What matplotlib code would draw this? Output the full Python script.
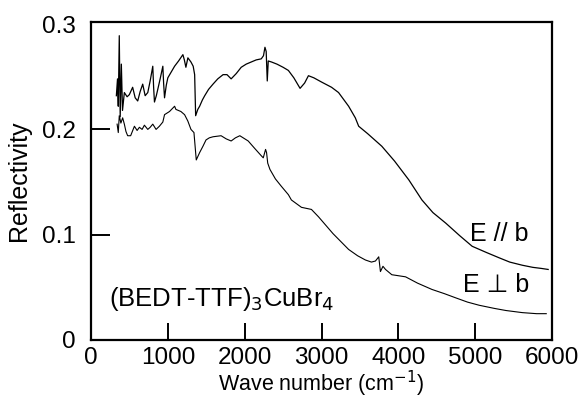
import matplotlib
matplotlib.use("Agg")
import matplotlib.pyplot as plt

plt.rcParams['font.family'] = ['Liberation Sans', 'DejaVu Sans']

# E // b (upper curve)
par_x = [330, 345, 355, 368, 380, 395, 410, 434, 470, 499, 542, 575, 608, 640, 673, 705, 739, 770,
         804, 815, 826, 850, 869, 900, 935, 945, 957, 980, 1000, 1040, 1088, 1140, 1196, 1215, 1235,
         1261, 1301, 1330, 1349, 1362, 1390, 1414, 1450, 1480, 1530, 1588, 1650, 1719, 1770, 1824,
         1890, 1955, 2020, 2085, 2150, 2216, 2245, 2264, 2280, 2294, 2307, 2350, 2420, 2500, 2569,
         2640, 2721, 2780, 2830, 2900, 3000, 3131, 3222, 3353, 3440, 3484, 3600, 3785, 3950,
         4137, 4307, 4450, 4617, 4800, 4961, 5150, 5314, 5450, 5614, 5750, 5859, 5950]
par_y = [0.232, 0.248, 0.222, 0.289, 0.212, 0.262, 0.218, 0.235, 0.231, 0.233, 0.240, 0.230, 0.227,
         0.236, 0.243, 0.232, 0.235, 0.246, 0.260, 0.240, 0.226, 0.232, 0.238, 0.248, 0.260, 0.244,
         0.230, 0.242, 0.249, 0.254, 0.260, 0.265, 0.271, 0.266, 0.259, 0.268, 0.264, 0.260, 0.252,
         0.213, 0.219, 0.222, 0.228, 0.232, 0.238, 0.243, 0.248, 0.252, 0.252, 0.248, 0.253, 0.259,
         0.262, 0.264, 0.266, 0.267, 0.270, 0.278, 0.274, 0.246, 0.265, 0.264, 0.262, 0.259, 0.256,
         0.249, 0.239, 0.244, 0.251, 0.249, 0.245, 0.240, 0.235, 0.222, 0.211, 0.203, 0.196, 0.184,
         0.170, 0.152, 0.133, 0.121, 0.111, 0.099, 0.089, 0.083, 0.078, 0.074, 0.071, 0.069, 0.068, 0.067]

# E perpendicular b (lower curve)
perp_x = [340, 355, 368, 389, 412, 434, 455, 477, 516, 565, 600, 630, 665, 695, 739, 770, 804, 847,
          890, 935, 957, 1022, 1088, 1105, 1170, 1218, 1260, 1301, 1340, 1370, 1414, 1457, 1497,
          1540, 1588, 1693, 1760, 1824, 1880, 1937, 2046, 2130, 2216, 2242, 2272, 2285, 2300, 2329,
          2400, 2477, 2569, 2608, 2739, 2869, 2961, 3150, 3353, 3470, 3571, 3650, 3702, 3745, 3767,
          3800, 3833, 3915, 4094, 4250, 4438, 4600, 4748, 4900, 5052, 5250, 5401, 5614, 5800, 5925]
perp_y = [0.205, 0.197, 0.213, 0.206, 0.211, 0.205, 0.198, 0.194, 0.194, 0.203, 0.199, 0.202, 0.200,
          0.204, 0.200, 0.202, 0.205, 0.200, 0.203, 0.207, 0.214, 0.217, 0.222, 0.219, 0.217, 0.214,
          0.208, 0.200, 0.197, 0.171, 0.178, 0.184, 0.190, 0.192, 0.193, 0.194, 0.191, 0.189, 0.192,
          0.194, 0.189, 0.182, 0.175, 0.173, 0.181, 0.178, 0.168, 0.162, 0.153, 0.146, 0.138, 0.133,
          0.126, 0.124, 0.117, 0.101, 0.086, 0.080, 0.076, 0.074, 0.075, 0.079, 0.065, 0.070, 0.067,
          0.062, 0.060, 0.054, 0.048, 0.044, 0.040, 0.036, 0.033, 0.030, 0.028, 0.026, 0.025, 0.025]

x_ticks = [0, 1000, 2000, 3000, 4000, 5000, 6000]
y_ticks = [0, 0.1, 0.2, 0.3]
y_tick_labels = ["0", "0.1", "0.2", "0.3"]

fig = plt.figure(figsize=(5.86, 3.98), dpi=100)
ax = fig.add_axes([91 / 586, 1 - 340 / 398, (552 - 91) / 586, (340 - 22) / 398])

ax.plot(par_x, par_y, color='black', lw=0.9)
ax.plot(perp_x, perp_y, color='black', lw=0.8)

ax.set_xlim(0, 6000)
ax.set_ylim(0, 0.302)
ax.set_xticks(x_ticks)
ax.set_yticks(y_ticks)
ax.set_yticklabels(y_tick_labels)
ax.tick_params(axis='both', direction='in', width=1.4, labelsize=17.5,
               top=False, right=False)
ax.tick_params(axis='x', pad=5, length=12)
ax.tick_params(axis='y', pad=11, length=14)
# ticks at the ends coincide with the frame
for t in (ax.yaxis.get_major_ticks()[0], ax.yaxis.get_major_ticks()[-1],
          ax.xaxis.get_major_ticks()[0], ax.xaxis.get_major_ticks()[-1]):
    t.tick1line.set_visible(False)
for s in ax.spines.values():
    s.set_linewidth(1.6)

ax.set_xlabel("Wave number (cm$^{-1}$)", fontsize=15.5, labelpad=0)
ax.set_ylabel("Reflectivity", fontsize=18, labelpad=8)

ax.text(230, 0.032, "(BEDT-TTF)$_3$CuBr$_4$", fontsize=18.5)
ax.text(5700, 0.101, "E // b", fontsize=18, ha='right', va='center')
ax.text(5700, 0.052, "E \u22a5 b", fontsize=18, ha='right', va='center')

fig.savefig("out.png", dpi=100)
